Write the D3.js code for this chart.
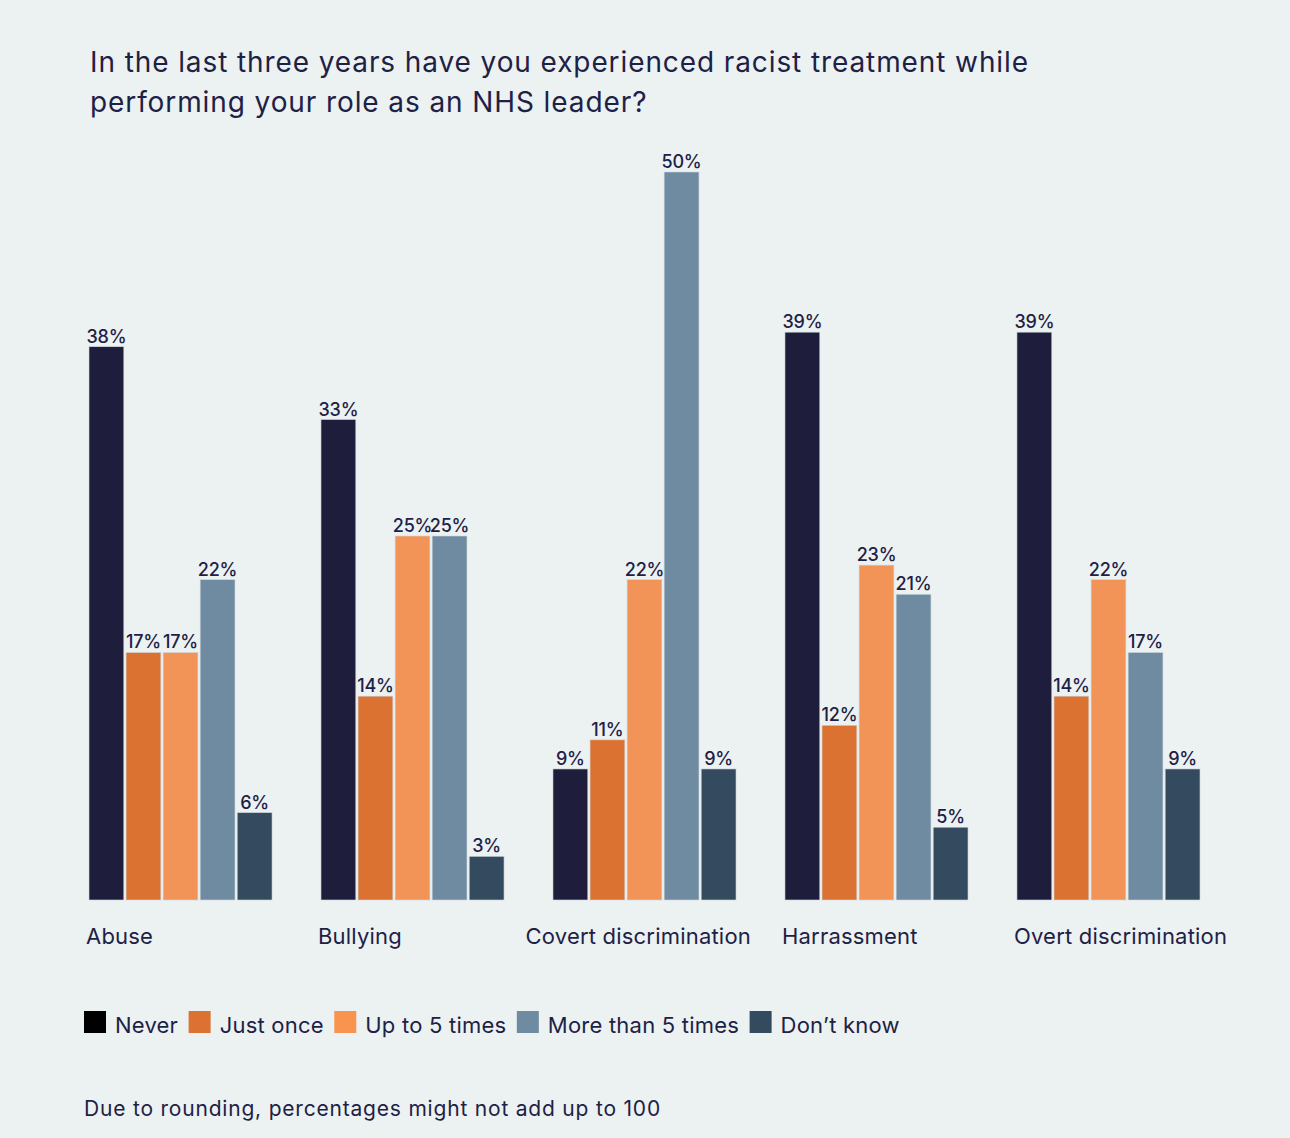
<!DOCTYPE html>
<html>
<head>
<meta charset="utf-8">
<script src="https://cdn.jsdelivr.net/npm/d3@7"></script>
<style>
  html, body { margin: 0; padding: 0; background: #ecf1f1; }
  svg { display: block; }
  text { font-family: Inter, "Noto Sans", sans-serif; fill: #1e2146; }
</style>
</head>
<body>
<div id="chart"></div>
<script>
// Chart data
const categories = ["Abuse", "Bullying", "Covert discrimination", "Harrassment", "Overt discrimination"];
const series = ["Never", "Just once", "Up to 5 times", "More than 5 times", "Don\u2019t know"];
const never = [38, 33, 9, 39, 39];
const justOnce = [17, 14, 11, 12, 14];
const upTo5 = [17, 25, 22, 23, 22];
const moreThan5 = [22, 25, 50, 21, 17];
const dontKnow = [6, 3, 9, 5, 9];
const seriesColors = ["#1e1e3c", "#db7232", "#f29457", "#6f8ba1", "#344a5e"];
const legendColors = ["#000000", "#db7232", "#f99450", "#6f8ba1", "#344a5e"];

const values = [never, justOnce, upTo5, moreThan5, dontKnow];

const width = 1290, height = 1138;
const svg = d3.select("#chart").append("svg")
    .attr("width", width)
    .attr("height", height);

svg.append("rect").attr("width", width).attr("height", height).attr("fill", "#ecf1f1");

// Title
const title = svg.append("text")
    .attr("x", 90).attr("y", 72)
    .style("font-size", "28px")
    .style("letter-spacing", "0.9px");
["In the last three years have you experienced racist treatment while",
 "performing your role as an NHS leader?"].forEach((t, i) => {
    title.append("tspan").attr("x", 90).attr("dy", i ? 40 : 0).text(t);
});

// Scales
const baseline = 900;
const y = d3.scaleLinear().domain([0, 50]).range([baseline, 172]);
const x0 = d3.scaleBand().domain(categories).range([89, 1200]).paddingInner(0.211).paddingOuter(0);
const x1 = d3.scaleBand().domain(series).range([0, x0.bandwidth()]).paddingInner(0.06).paddingOuter(0);

const groups = svg.selectAll("g.group")
    .data(categories)
    .enter().append("g")
    .attr("class", "group")
    .attr("transform", d => `translate(${x0(d)},0)`);

groups.each(function(cat, ci) {
    const g = d3.select(this);
    const rows = series.map((s, si) => ({ s, si, v: values[si][ci] }));
    g.selectAll("rect")
        .data(rows)
        .enter().append("rect")
        .attr("x", d => x1(d.s))
        .attr("y", d => y(d.v))
        .attr("width", x1.bandwidth())
        .attr("height", d => baseline - y(d.v))
        .attr("fill", d => seriesColors[d.si])
        .attr("stroke", "#cfd8dd")
        .attr("stroke-width", 0.6);
    g.selectAll("text.val")
        .data(rows)
        .enter().append("text")
        .attr("class", "val")
        .attr("x", d => x1(d.s) + x1.bandwidth() / 2)
        .attr("y", d => y(d.v) - 4)
        .attr("text-anchor", "middle")
        .style("font-size", "18px")
        .style("letter-spacing", "-0.2px")
        .style("font-weight", 500)
        .text(d => d.v + "%");
});

// Category labels, left aligned with a nudge to avoid running into the next one
const catLabels = svg.selectAll("text.cat")
    .data(categories)
    .enter().append("text")
    .attr("class", "cat")
    .attr("y", 944)
    .style("font-size", "22px")
    .style("letter-spacing", "0.2px")
    .text(d => d);
catLabels.each(function(d, i) {
    const w = this.getComputedTextLength();
    let xp = x0(d) - 3;
    if (i < categories.length - 1) {
        const limit = x0(categories[i + 1]) - 34;
        if (xp + w > limit) xp = limit - w;
    }
    d3.select(this).attr("x", xp);
});

// Legend
const legend = svg.append("g").attr("transform", "translate(84,1011)");
let lx = 0;
series.forEach((s, i) => {
    const item = legend.append("g").attr("transform", `translate(${lx},0)`);
    item.append("rect").attr("width", 22).attr("height", 22).attr("fill", legendColors[i]);
    const t = item.append("text").attr("x", 31).attr("y", 22)
        .style("font-size", "22px")
        .style("letter-spacing", "0.22px")
        .text(s);
    lx += 31 + t.node().getComputedTextLength() + 10.5;
});

// Footnote
svg.append("text")
    .attr("x", 84).attr("y", 1116)
    .style("font-size", "21px")
    .style("letter-spacing", "0.8px")
    .text("Due to rounding, percentages might not add up to 100");
</script>
</body>
</html>
